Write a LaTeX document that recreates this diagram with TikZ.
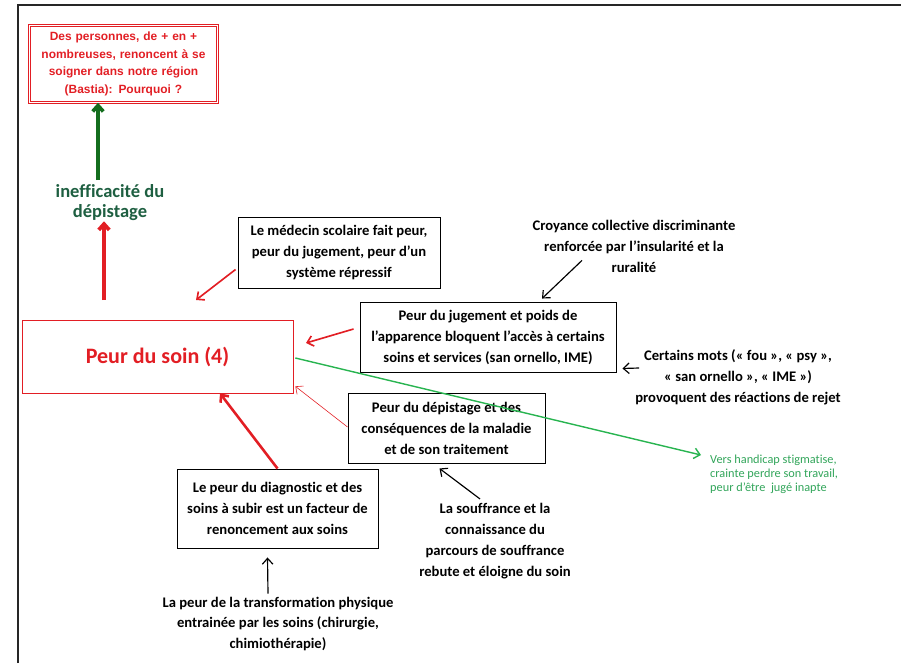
\documentclass[tikz,border=0pt]{standalone}
\usepackage{fontspec}
\setmainfont{Carlito}[Ligatures=NoCommon]
\newfontfamily\arialfont{Liberation Sans}
\usetikzlibrary{arrows.meta, calc, positioning}
\definecolor{soinred}{RGB}{226,30,36}
\definecolor{darkgreen}{RGB}{20,110,30}
\definecolor{tealgreen}{RGB}{30,95,65}
\definecolor{linegreen}{RGB}{40,180,80}
\definecolor{textgreen}{RGB}{50,165,90}

\begin{document}
\begin{tikzpicture}[x=0.03cm, y=-0.03cm, >={Straight Barb[length=5pt, width=9pt]}]
    \tikzset{box/.style={draw, line width=0.8pt, inner sep=0pt, align=center, font=\bfseries\fontsize{12.5}{17.9}\selectfont},
        freetext/.style={inner sep=0pt, align=center, font=\bfseries\fontsize{12.5}{17.9}\selectfont},
        redarrow/.style={->, draw=soinred}
    }
    \useasboundingbox (0,0) rectangle (901,663);
    \draw [line width=1.2pt, black!85] (18,663) -- (18,5) -- (901,5);

    % question and main box
    \node (Question) [draw=soinred, double, double distance=1.4pt, line width=0.8pt, minimum width=5.5cm, minimum height=2.3cm, text width=5.4cm, align=center, text=soinred, font=\arialfont\bfseries\fontsize{10.2}{15.2}\selectfont] at (123.5,64) {Des personnes, de + en +\\ nombreuses, renoncent à se\\ soigner dans notre région\\ (Bastia): Pourquoi ?};
    \node (Ineff) [freetext, text=tealgreen, font=\bfseries\fontsize{15.8}{17}\selectfont] at (110,203) {inefficacité du\\ dépistage};
    \node (Soin) [draw=soinred, line width=0.6pt, minimum width=8.13cm, minimum height=2.19cm, text=soinred, font=\bfseries\fontsize{18.8}{20}\selectfont] at (157.5,356.5) {Peur du soin (4)};

    % boxes
    \node (Med) [box, minimum width=6.06cm, minimum height=2.13cm] at (339,252.5) {Le médecin scolaire fait peur,\\ peur du jugement, peur d’un\\ système répressif};
    \node (Jug) [box, minimum width=7.68cm, minimum height=2.1cm] at (488,337) {Peur du jugement et poids de\\ l’apparence bloquent l’accès à certains\\ soins et services (san ornello, IME)};
    \node (Dep) [box, minimum width=5.91cm, minimum height=2.1cm] at (446.5,428) {Peur du dépistage et des\\ conséquences de la maladie\\ et de son traitement};
    \node (Diag) [box, minimum width=6.03cm, minimum height=2.37cm] at (277.5,508.5) {Le peur du diagnostic et des\\ soins à subir est un facteur de\\ renoncement aux soins};

    % free texts
    \node (Croy) [freetext] at (634,246) {Croyance collective discriminante\\ renforcée par l’insularité et la\\ ruralité};
    \node (Mots) [freetext] at (738,377) {Certains mots (« fou », « psy »,\\ « san ornello », « IME »)\\ provoquent des réactions de rejet};
    \node (Souf) [freetext] at (495,541) {La souffrance et la\\ connaissance du\\ parcours de souffrance\\ rebute et éloigne du soin};
    \node (Transf) [freetext] at (278,624) {La peur de la transformation physique\\ entrainée par les soins (chirurgie,\\ chimiothérapie)};
    \node (Vers) [inner sep=0pt, anchor=west, align=left, text=textgreen, font=\fontsize{10.5}{11.8}\selectfont] at (710,474) {Vers handicap stigmatise,\\ crainte perdre son travail,\\ peur d’être \ jugé inapte};

    \coordinate (greenTail) at (98,180);
    \coordinate (redTail) at (104,300);
    \coordinate (medTip) at (196,300);
    \coordinate (jugTip) at (306,343);

    \draw [->, darkgreen, line width=3.2pt] (greenTail) -- (greenTail |- Question.south);
    \draw [redarrow, line width=3.2pt] (redTail) -- (redTail |- Ineff.south);
    \draw [redarrow, line width=1.4pt] ($(Med.west)+(-2,17)$) -- (medTip);
    \draw [redarrow, line width=1.4pt] ($(Jug.west)+(-6,-8)$) -- (jugTip);
    \draw [redarrow, line width=0.5pt] ($(Dep.west)+(0,-1)$) -- ($(Soin.south east)+(2,-7)$);
    \draw [redarrow, line width=2.2pt] (Diag.north) -- ($(Soin.south)+(62.5,0)$);
    \draw [->, line width=1pt] ($(Croy.south)+(-52,-12)$) -- ($(Jug.north)+(54,-3)$);
    \draw [->, line width=1pt] ($(Mots.west)+(4,-9)$) -- ($(Jug.south east)+(6,-4)$);
    \draw [->, line width=1pt] ($(Souf.north)+(-15,-4)$) -- ($(Dep.south)+(-7,5)$);
    \draw [->, line width=1pt] ($(Transf.north)+(-10,-3)$) -- ($(Diag.south)+(-10,9)$);
    \draw [->, linegreen, line width=1.2pt] ($(Soin.east)+(2,1.5)$) -- ($(Vers.west)+(-9,-19)$);
\end{tikzpicture}
\end{document}
